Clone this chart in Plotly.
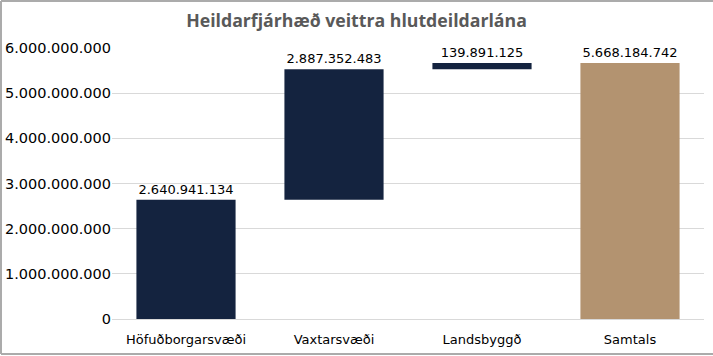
import plotly.graph_objects as go

categories = ["Höfuðborgarsvæði", "Vaxtarsvæði", "Landsbyggð", "Samtals"]
values = [2640941134, 2887352483, 139891125, 5668184742]
measures = ["relative", "relative", "relative", "total"]
tick_vals = [0, 1e9, 2e9, 3e9, 4e9, 5e9, 6e9]

def fmt(v):
    return f"{int(v):,}".replace(",", ".")

labels = [fmt(v) for v in values]

W, H = 713, 356
ml, mr, mt, mb = 112, 9, 48, 37

fig = go.Figure(go.Waterfall(
    x=categories,
    y=[values[0], values[1], values[2], 0],
    measure=measures,
    text=labels,
    textposition="outside",
    textfont=dict(family="DejaVu Sans", size=13, color="#000000"),
    cliponaxis=False,
    increasing=dict(marker=dict(color="#14233F")),
    decreasing=dict(marker=dict(color="#14233F")),
    totals=dict(marker=dict(color="#B39370")),
    connector=dict(visible=False),
    width=0.67,
    hoverinfo="skip",
))

fig.update_layout(
    width=W, height=H,
    margin=dict(l=ml, r=mr, t=mt, b=mb, autoexpand=False),
    paper_bgcolor="white", plot_bgcolor="white",
    separators=",.",
    showlegend=False,
    title=dict(text="<b>Heildarfjárhæð veittra hlutdeildarlána</b>",
               x=0.5, xanchor="center", y=0.942, yanchor="middle",
               font=dict(family="Open Sans", size=17.7, color="#595959")),
    xaxis=dict(showgrid=False, showline=False, ticks="outside", ticklen=8,
               tickcolor="rgba(0,0,0,0)", automargin=False,
               tickfont=dict(family="DejaVu Sans", size=13, color="#000000")),
    yaxis=dict(range=[0, 6e9], tickvals=tick_vals, tickformat=",d",
               showgrid=True, gridcolor="#D9D9D9", gridwidth=1,
               zeroline=True, zerolinecolor="#D9D9D9", zerolinewidth=1,
               showline=False, ticks="", ticklen=0, automargin=False,
               tickfont=dict(family="DejaVu Sans", size=14.5, color="#000000")),
    font=dict(family="DejaVu Sans"),
)

pw = W - ml - mr
ph = H - mt - mb
xl = (1 - ml) / pw
xr = (W - ml) / pw
yb = -(mb - 2) / ph
yt = (ph + mt - 1) / ph
border = dict(color="#ABABAB", width=2)
for x0, y0, x1, y1 in [(xl, yt, xr, yt), (xl, yb, xl, yt), (xl, yb, xr, yb)]:
    fig.add_shape(type="line", xref="paper", yref="paper",
                  x0=x0, y0=y0, x1=x1, y1=y1, line=border, layer="above")

fig.write_html("out.html",
               config={"displayModeBar": False, "staticPlot": True},
               post_script="document.body.style.margin='0';document.body.style.overflow='hidden';")
